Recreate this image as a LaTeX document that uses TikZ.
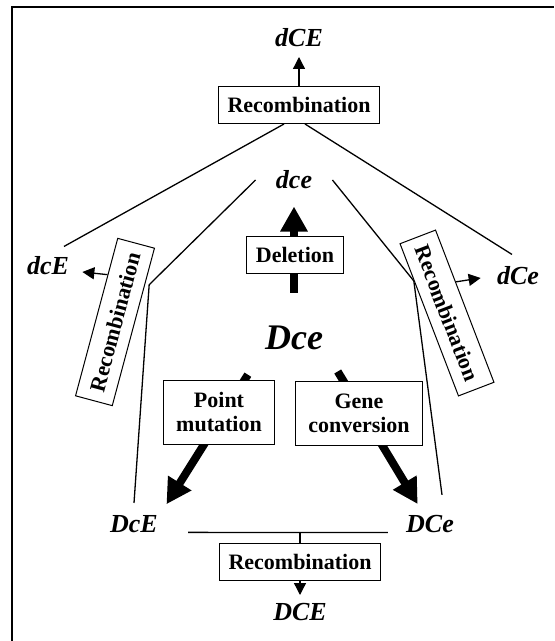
\documentclass[tikz,border=0pt]{standalone}
\usepackage{fontspec}
\setmainfont{Liberation Serif}
\usetikzlibrary{arrows.meta, positioning, backgrounds}
\tikzset{
  box/.style={rectangle,draw,line width=0.5pt,fill=white,align=center,inner xsep=4.5pt,minimum height=18.5pt,font=\fontsize{11}{12}\selectfont\bfseries},
  twoline/.style={inner xsep=6.3pt,minimum height=32pt},
  tilted/.style={minimum height=19pt,inner xsep=5pt},
  allele/.style={inner sep=2pt,font=\fontsize{13}{15}\selectfont\bfseries\itshape},
  link/.style={line width=0.65pt},
  line/.style={link,-{Triangle[length=6pt,width=6pt]}},
  bigarrow/.style={line width=4pt,-{Triangle[length=12.5pt,width=13pt]}}
}

\begin{document}
\begin{tikzpicture}[x=0.5pt,y=-0.5pt]
\useasboundingbox (0,0) rectangle (554,641);
\draw[line width=1pt] (11.5,641) |- (554,7);

% top recombination
\node[box] (recT) at (299,105) {Recombination};
\node[allele, above=17.5pt of recT] (dCE) {dCE};
\node[allele] (dce) at (294,180) {dce};
\node[box] (del) at (295,255) {Deletion};
\node[allele] (dcE) at (48,266) {dcE};
\node[allele] (dCe) at (518,276) {dCe};
\node[box, tilted, rotate=75] (recL) at (115,322) {Recombination};
\node[box, tilted, rotate=-69] (recR) at (447,313) {Recombination};

% starting haplotype and its mutations
\node[allele, font=\fontsize{18}{20}\selectfont\bfseries\itshape] (Dce) at (294,338) {Dce};
\node[box, twoline] (pm) at (219,412) {Point\\mutation};
\node[box, twoline] (gc) at (359,413) {Gene\\conversion};
\node[allele] (DcE) at (134,524) {DcE};
\node[allele] (DCe) at (430,524) {DCe};

% bottom recombination
\node[box] (recB) at (300,562) {Recombination};
\node[allele, below=9pt of recB] (DCE) {DCE};

\begin{scope}[on background layer]
\draw[bigarrow, shorten <=14.5pt, shorten >=6.5pt] (Dce.north) -- (dce.south);
\draw[bigarrow, shorten <=12pt, shorten >=4pt] (Dce.south west) -- (DcE.north east);
\draw[bigarrow, shorten <=10pt, shorten >=4pt] (Dce.south east) -- ([xshift=10pt]DCe.north west);

\draw[line, shorten >=3pt] (recT) -- (dCE);
\draw[link] ([xshift=-7.5pt]recT.south) -- ([xshift=8pt,yshift=3pt]dcE.north);
\draw[link] ([xshift=3pt]recT.south) -- ([xshift=-3pt,yshift=4pt]dCe.north);

\draw[link] ([xshift=-8pt]dce.west) -- ([xshift=2pt]recL.-24) -- ([yshift=4pt]DcE.north);
\draw[link] ([xshift=8pt]dce.east) -- (recR.-155) -- ([xshift=6pt,yshift=8pt]DCe.north);
\draw[line] (recL.24) -- ([xshift=4.5pt,yshift=-3pt]dcE.east);
\draw[line] (recR.143) -- ([xshift=-6pt,yshift=-1pt]dCe.west);

\draw[link] ([xshift=13pt]DcE.base east) -- ([xshift=-7pt]DCe.base west) coordinate[midway] (bar);
\draw[link] (recB.north) -- (recB.north |- bar);
\draw[line, shorten >=2pt] (recB) -- (DCE);
\end{scope}
\end{tikzpicture}
\end{document}
